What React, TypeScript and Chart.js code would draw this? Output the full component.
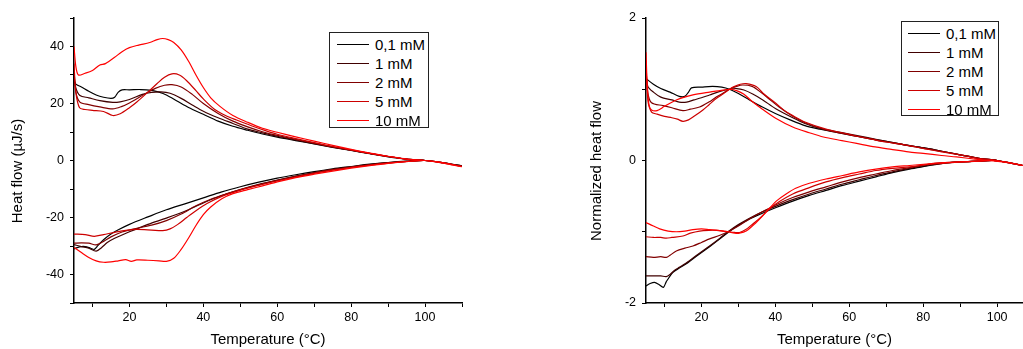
import React, { useEffect, useRef } from 'react';
import { Chart, registerables } from 'chart.js';

Chart.register(...registerables);

// ---------- series meta ----------
const seriesLabels = ['0,1 mM', '1 mM', '2 mM', '5 mM', '10 mM'];
const seriesColors = ['#000000', '#400000', '#800000', '#cc0000', '#ff0000'];

// ---------- left panel: heat flow (µJ/s), [T, value] ----------
const hfUpper01 = [[5,28],[5.5,26.8],[7,25.8],[9,24.3],[11,23],[13,22.2],[15,21.8],[16,22.2],[17,24],[18,24.8],[20,24.8],[23,24.9],[26,24.6],[28,24],[30,23],[33,20.8],[36,18.6],[40,16.2],[44,13.8],[48,12],[52,10.6],[56,9.3],[60,8.2],[65,7],[70,5.8],[75,4.6],[80,3.5],[85,2.4],[90,1.3],[95,0.5],[100,0],[105,-0.8],[110,-1.9]];
const hfUpper1 = [[5,30],[5.5,25.5],[6.6,22.8],[9,22],[12,21],[15.5,20.4],[17.5,20.6],[20,21.4],[23.5,23.2],[26,23.9],[28.5,24.1],[31,23.6],[34,21.8],[37,19.5],[40,17.3],[44,15],[48,13],[52,11],[56,9.7],[60,8.5],[65,7.2],[70,5.9],[75,4.7],[80,3.6],[85,2.5],[90,1.4],[95,0.5],[100,0],[105,-0.8],[110,-1.9]];
const hfUpper2 = [[5,32],[5.5,24],[6.6,20.5],[9,19.6],[12,18.8],[15.5,18.1],[18,19],[20,20.2],[22,21.7],[24.5,23.6],[27,25.3],[29.5,26.4],[31.5,26.6],[34,25.8],[37,23.2],[40,20],[44,16.5],[48,13.8],[52,11.8],[56,10.1],[60,8.8],[65,7.4],[70,6.1],[75,4.8],[80,3.6],[85,2.5],[90,1.4],[95,0.5],[100,0],[105,-0.8],[110,-2]];
const hfUpper5 = [[5,34],[5.5,24],[6.5,18.5],[8,17.9],[10,17.6],[13,17.2],[15.5,15.8],[17.5,16.4],[20,18.5],[22,20.5],[25,24],[27.5,27],[29.5,29.2],[31.5,30.4],[33.5,30],[35.5,28],[38,24.5],[40,21.6],[43,18],[46,15.8],[49,14.2],[53,12.2],[57,10.4],[60,9.2],[65,7.7],[70,6.3],[75,4.9],[80,3.7],[85,2.5],[90,1.4],[95,0.5],[100,0],[105,-0.9],[110,-2.1]];
const hfUpper10 = [[5,40],[5.5,33],[6.2,30],[8,30.6],[10,31.6],[12,33.5],[13.5,34],[16,36.2],[18,38.2],[20,39.6],[22.5,40.5],[25.5,41.4],[27.5,42.4],[29,42.8],[30.5,42.4],[32,41.4],[34,38.8],[36,34.8],[38,30],[40,25.6],[42,22],[44.5,19],[48,15.8],[52,13.4],[56,11.3],[60,9.9],[65,8.3],[70,6.8],[75,5.3],[80,3.9],[85,2.6],[90,1.5],[95,0.5],[100,0],[105,-0.9],[110,-2.2]];

const hfLower01 = [[5,-31],[6.5,-30.3],[8,-30.2],[9.5,-30.8],[10.5,-31.2],[11.5,-29.8],[13,-27.8],[15,-25.8],[17,-24.3],[20,-22.4],[25,-19.8],[30,-17.3],[35,-15.2],[40,-13.1],[45,-11],[50,-9.2],[55,-7.6],[60,-6.2],[65,-5],[70,-3.9],[75,-2.9],[80,-2.1],[85,-1.3],[90,-0.7],[95,-0.25],[100,0],[105,-0.8],[110,-1.9]];
const hfLower1 = [[5,-29.5],[7,-30.2],[9,-30.8],[11,-31.8],[12.5,-30.5],[14,-28.8],[16,-27.3],[20,-25],[25,-22.4],[30,-20.2],[35,-17.8],[40,-14.9],[45,-12.3],[50,-10.2],[55,-8.4],[60,-6.9],[65,-5.5],[70,-4.2],[75,-3.1],[80,-2.2],[85,-1.4],[90,-0.75],[95,-0.3],[100,0],[105,-0.8],[110,-1.9]];
const hfLower2 = [[5,-29],[7,-28.9],[9,-29],[11,-29.6],[13,-28.4],[15,-26.8],[18,-25.1],[22,-23.8],[26,-22.7],[30,-21.1],[34,-18.8],[38,-15.9],[42,-13.6],[46,-11.8],[50,-10.2],[55,-8.5],[60,-7],[65,-5.6],[70,-4.3],[75,-3.2],[80,-2.3],[85,-1.5],[90,-0.8],[95,-0.3],[100,0],[105,-0.8],[110,-2]];
const hfLower5 = [[5,-25.8],[8,-26],[10.5,-26.6],[13,-26],[16,-25.2],[19,-24.5],[22,-24.2],[26,-24.4],[29,-24.6],[31,-24],[33,-22.5],[35.5,-20],[38,-17.6],[41,-15.1],[45,-12.6],[50,-10.4],[55,-8.7],[60,-7.2],[65,-5.8],[70,-4.5],[75,-3.4],[80,-2.4],[85,-1.6],[90,-0.9],[95,-0.35],[100,0],[105,-0.8],[110,-2.1]];
const hfLower10 = [[5,-30.5],[7,-32.3],[9,-34],[11,-35.2],[13,-35.7],[15,-35.6],[17,-35.2],[19,-34.8],[20.5,-35.4],[22,-34.9],[25,-35],[28,-35.2],[30,-35.4],[32,-34.3],[34,-31.2],[36,-27.2],[38,-22.8],[40,-19],[42,-16.3],[45,-13.4],[48,-11.6],[52,-10.2],[56,-8.9],[60,-7.5],[65,-6],[70,-4.8],[75,-3.7],[80,-2.7],[85,-1.8],[90,-1],[95,-0.4],[100,0],[105,-0.8],[110,-2.2]];

// ---------- right panel: normalized heat flow, [T, value] ----------
const nhfUpper01 = [[5,1.15],[7,1.07],[9,1.01],[11.5,0.96],[14,0.9],[15.5,0.9],[16.5,0.96],[17.3,1.02],[20,1.03],[23,1.04],[25.5,1.03],[27.6,1.0],[30,0.94],[33,0.85],[36.5,0.75],[40,0.66],[44,0.57],[48,0.49],[52,0.44],[56,0.4],[60,0.36],[65,0.31],[70,0.27],[75,0.22],[80,0.18],[85,0.13],[90,0.08],[95,0.03],[100,0],[104,-0.04],[107,-0.07]];
const nhfUpper1 = [[5,1.2],[5.5,1.04],[7,0.96],[9,0.89],[12,0.85],[14,0.82],[16,0.82],[18,0.85],[20,0.88],[22.2,0.92],[25,0.97],[27.6,1.0],[29.5,1.01],[31.5,0.99],[34,0.93],[36.6,0.85],[40,0.73],[44.7,0.6],[48,0.52],[52,0.45],[56,0.41],[60,0.37],[65,0.32],[70,0.27],[75,0.22],[80,0.18],[85,0.13],[90,0.08],[95,0.03],[100,0],[104,-0.04],[107,-0.07]];
const nhfUpper2 = [[5,1.3],[5.5,0.95],[6.5,0.81],[9.6,0.77],[12,0.74],[15,0.7],[17,0.72],[19.5,0.75],[22,0.82],[24,0.89],[26,0.95],[27.6,1.0],[29.5,1.04],[31.2,1.06],[33.7,1.04],[36,0.96],[38.4,0.86],[41,0.75],[44.7,0.62],[48,0.53],[53.7,0.43],[58,0.38],[62,0.34],[66,0.3],[70,0.26],[75,0.22],[80,0.17],[85,0.13],[90,0.08],[95,0.03],[100,0],[104,-0.04],[107,-0.07]];
const nhfUpper5 = [[5,1.4],[5.5,0.85],[6.5,0.68],[8,0.65],[10,0.62],[12,0.6],[13.5,0.58],[15,0.55],[16.5,0.57],[18,0.62],[20.4,0.71],[22,0.78],[24,0.87],[26,0.94],[27.6,1.0],[29,1.04],[30.5,1.07],[32.1,1.08],[34.8,1.04],[37,0.93],[40.2,0.8],[42.5,0.7],[44.7,0.63],[48,0.54],[53.7,0.44],[58,0.39],[62,0.34],[66,0.3],[70,0.26],[75,0.22],[80,0.17],[85,0.12],[90,0.08],[95,0.03],[100,0],[104,-0.04],[107,-0.07]];
const nhfUpper10 = [[5,1.52],[5.3,1.1],[5.8,0.78],[6.5,0.71],[8,0.7],[10,0.76],[13.2,0.85],[17.7,0.92],[22.2,0.96],[25,0.98],[27.6,1.0],[29.5,0.98],[31.5,0.93],[33.9,0.82],[36.5,0.72],[40.2,0.59],[44.7,0.47],[49.2,0.39],[53,0.33],[58,0.28],[62,0.24],[67,0.19],[71,0.16],[76,0.12],[80,0.1],[85,0.07],[89,0.05],[94,0.02],[98,0],[103,-0.03],[107,-0.07]];

const nhfLower01 = [[5,-1.76],[6,-1.73],[7.3,-1.71],[8.5,-1.74],[9.7,-1.78],[10.5,-1.7],[12.3,-1.57],[14,-1.51],[15.9,-1.45],[19,-1.33],[22.2,-1.21],[25,-1.1],[27.2,-1.01],[30,-0.91],[33,-0.82],[36.5,-0.74],[40.2,-0.66],[44.7,-0.57],[49.2,-0.49],[53.7,-0.42],[58.2,-0.35],[62.7,-0.29],[67.2,-0.23],[71.7,-0.17],[76.3,-0.12],[80.8,-0.08],[85.3,-0.04],[90,-0.02],[95,-0.01],[99,0],[103,-0.03],[107,-0.07]];
const nhfLower1 = [[5,-1.62],[7,-1.62],[9,-1.62],[10.5,-1.63],[11.5,-1.6],[12.5,-1.55],[14,-1.5],[15.9,-1.44],[19,-1.32],[22.2,-1.2],[25,-1.09],[27.2,-1.0],[30,-0.9],[33,-0.81],[36.5,-0.72],[40.2,-0.64],[44.7,-0.55],[49.2,-0.47],[53.7,-0.4],[58.2,-0.33],[62.7,-0.27],[67.2,-0.21],[71.7,-0.16],[76.3,-0.11],[80.8,-0.07],[85.3,-0.04],[90,-0.02],[95,-0.01],[99,0],[103,-0.03],[107,-0.07]];
const nhfLower2 = [[5,-1.35],[7,-1.36],[9,-1.35],[10.5,-1.36],[11.5,-1.33],[13.2,-1.27],[15.5,-1.23],[17.7,-1.2],[20,-1.15],[22.2,-1.1],[25,-1.05],[27.2,-1.0],[30,-0.92],[33,-0.82],[36.5,-0.72],[40.2,-0.62],[44.7,-0.52],[49.2,-0.44],[53.7,-0.37],[58.2,-0.3],[62.7,-0.24],[67.2,-0.19],[71.7,-0.14],[76.3,-0.1],[80.8,-0.06],[85.3,-0.03],[90,-0.02],[95,-0.01],[99,0],[103,-0.03],[107,-0.07]];
const nhfLower5 = [[5,-1.07],[7,-1.08],[9,-1.08],[10.5,-1.09],[12,-1.08],[15,-1.06],[17,-1.02],[19.5,-0.99],[22,-0.98],[24,-0.98],[26,-0.99],[27.2,-1.0],[29,-1.01],[30.3,-1.01],[32,-0.97],[33.9,-0.89],[36,-0.8],[38.4,-0.68],[41,-0.58],[44.7,-0.47],[49.2,-0.38],[53.7,-0.3],[58.2,-0.24],[62.7,-0.19],[67.2,-0.14],[71.7,-0.11],[76.3,-0.09],[80.8,-0.06],[85.3,-0.04],[90,-0.02],[95,-0.01],[99,0],[103,-0.03],[107,-0.07]];
const nhfLower10 = [[5,-0.87],[7,-0.92],[8.7,-0.96],[11,-0.99],[13.2,-1.0],[15.5,-0.99],[17.7,-0.97],[20,-0.96],[22.2,-0.97],[24.5,-0.98],[27.2,-1.0],[29,-1.02],[30.3,-1.02],[32.1,-0.99],[34.8,-0.87],[36.5,-0.78],[38.4,-0.67],[40.5,-0.56],[42.9,-0.47],[45.5,-0.39],[49.2,-0.32],[53.7,-0.26],[58.2,-0.21],[62.7,-0.16],[67.2,-0.12],[71.7,-0.09],[76.3,-0.07],[80.8,-0.05],[85.3,-0.03],[90,-0.02],[94.3,-0.01],[99,0],[103,-0.03],[107,-0.07]];

// ---------- axes ----------
const leftXTicks = [10, 20, 30, 40, 50, 60, 70, 80, 90, 100, 110];
const leftXLabels = [20, 40, 60, 80, 100];
const leftYTicks = [-50, -40, -30, -20, -10, 0, 10, 20, 30, 40, 50];
const leftYLabels = [-40, -20, 0, 20, 40];
const rightXTicks = [10, 20, 30, 40, 50, 60, 70, 80, 90, 100];
const rightXLabels = [20, 40, 60, 80, 100];
const rightYTicks = [-2, -1, 0, 1, 2];
const rightYLabels = [-2, 0, 2];

const FONT = "'Liberation Sans', Arial, sans-serif";

function toLoop(upper: number[][], lower: number[][]) {
  return [...upper, ...lower.slice().reverse()].map(([x, y]) => ({ x, y }));
}

type PanelProps = {
  left: number;
  width: number;
  height: number;
  areaLeft: number;
  areaRight: number;
  areaTop: number;
  areaBottom: number;
  xMin: number;
  xMax: number;
  yMin: number;
  yMax: number;
  xTicks: number[];
  xLabels: number[];
  yTicks: number[];
  yLabels: number[];
  xTitle: string;
  yTitle: string;
  yTitleX: number;
  yTitleY: number;
  uppers: number[][][];
  lowers: number[][][];
  legend: { left: number; top: number; width: number; height: number; lineLeft: number; textLeft: number };
};

function Panel(p: PanelProps) {
  const ref = useRef<HTMLCanvasElement | null>(null);
  useEffect(() => {
    if (!ref.current) return;
    const datasets = p.uppers.map((u, i) => ({
      label: seriesLabels[i],
      data: toLoop(u, p.lowers[i]),
      borderColor: seriesColors[i],
      backgroundColor: seriesColors[i],
      borderWidth: 1.2,
      pointRadius: 0,
      tension: 0.3,
      fill: false,
      order: seriesLabels.length - 1 - i,
    }));
    const tickFont = { family: FONT, size: 12.5 };
    const titleFont = { family: FONT, size: 15 };
    const yTitlePlugin = {
      id: 'yTitleAt',
      afterDraw(chart: any) {
        const ctx = chart.ctx;
        ctx.save();
        ctx.font = `15px ${FONT}`;
        ctx.fillStyle = '#000';
        ctx.textAlign = 'center';
        ctx.textBaseline = 'middle';
        ctx.translate(p.yTitleX, p.yTitleY);
        ctx.rotate(-Math.PI / 2);
        ctx.fillText(p.yTitle, 0, 0);
        ctx.restore();
      },
    };
    const chart = new Chart(ref.current, {
      type: 'line',
      data: { datasets },
      plugins: [yTitlePlugin],
      options: {
        responsive: false,
        animation: false,
        layout: { padding: { left: 0, top: p.areaTop, right: p.width - p.areaRight, bottom: 0 } },
        plugins: { legend: { display: false }, tooltip: { enabled: false } },
        scales: {
          x: {
            type: 'linear',
            min: p.xMin,
            max: p.xMax,
            afterBuildTicks: (s: any) => { s.ticks = p.xTicks.map((v) => ({ value: v })); },
            afterFit: (s: any) => { s.height = p.height - p.areaBottom; },
            ticks: {
              autoSkip: false,
              maxRotation: 0,
              padding: 3,
              color: '#000',
              font: tickFont,
              callback: (v: any) => (p.xLabels.includes(Number(v)) ? String(v) : ''),
            },
            grid: { drawOnChartArea: false, drawTicks: true, tickLength: 4, color: '#000', lineWidth: 1 },
            border: { display: true, color: '#000', width: 1.5 },
            title: { display: true, text: p.xTitle, color: '#000', font: titleFont, padding: { top: 0, bottom: 0 } },
          },
          y: {
            type: 'linear',
            min: p.yMin,
            max: p.yMax,
            afterBuildTicks: (s: any) => { s.ticks = p.yTicks.map((v) => ({ value: v })); },
            afterFit: (s: any) => { s.width = p.areaLeft; },
            ticks: {
              autoSkip: false,
              padding: 6,
              color: '#000',
              font: tickFont,
              callback: (v: any) => (p.yLabels.includes(Number(v)) ? String(v) : ''),
            },
            grid: { drawOnChartArea: false, drawTicks: true, tickLength: 4, color: '#000', lineWidth: 1 },
            border: { display: true, color: '#000', width: 1.5 },
            title: { display: false, text: p.yTitle },
          },
        },
      },
    } as any);
    return () => chart.destroy();
  }, []);

  const lg = p.legend;
  return (
    <>
      <canvas
        ref={ref}
        width={p.width}
        height={p.height}
        style={{ position: 'absolute', left: p.left, top: 0, width: p.width, height: p.height }}
      />
      <div
        style={{
          position: 'absolute',
          left: lg.left,
          top: lg.top,
          width: lg.width,
          height: lg.height,
          boxSizing: 'border-box',
          border: '1px solid #222',
          background: '#fff',
        }}
      >
        {seriesLabels.map((lab, i) => (
          <div key={lab} style={{ position: 'absolute', left: 0, top: 11.3 + i * 19 - 9.5, height: 19, width: '100%' }}>
            <div
              style={{
                position: 'absolute',
                left: lg.lineLeft,
                top: 9,
                width: 32,
                height: 0,
                borderTop: `1.3px solid ${seriesColors[i]}`,
              }}
            />
            <div
              style={{
                position: 'absolute',
                left: lg.textLeft,
                top: 0,
                height: 19,
                lineHeight: '19px',
                fontFamily: FONT,
                fontSize: 15,
                color: '#000',
                whiteSpace: 'nowrap',
              }}
            >
              {lab}
            </div>
          </div>
        ))}
      </div>
    </>
  );
}

export default function App() {
  return (
    <div style={{ position: 'fixed', left: 0, top: 0, width: 1023, height: 349, background: '#fff', overflow: 'hidden' }}>
      <Panel
        left={0}
        width={520}
        height={349}
        areaLeft={74}
        areaRight={462}
        areaTop={18}
        areaBottom={303}
        xMin={5}
        xMax={110}
        yMin={-50}
        yMax={50}
        xTicks={leftXTicks}
        xLabels={leftXLabels}
        yTicks={leftYTicks}
        yLabels={leftYLabels}
        xTitle="Temperature (°C)"
        yTitle="Heat flow (µJ/s)"
        yTitleX={18}
        yTitleY={171}
        uppers={[hfUpper01, hfUpper1, hfUpper2, hfUpper5, hfUpper10]}
        lowers={[hfLower01, hfLower1, hfLower2, hfLower5, hfLower10]}
        legend={{ left: 329, top: 32, width: 100, height: 96, lineLeft: 7, textLeft: 45 }}
      />
      <Panel
        left={575}
        width={448}
        height={349}
        areaLeft={71}
        areaRight={448}
        areaTop={18}
        areaBottom={303}
        xMin={5}
        xMax={107}
        yMin={-2}
        yMax={2}
        xTicks={rightXTicks}
        xLabels={rightXLabels}
        yTicks={rightYTicks}
        yLabels={rightYLabels}
        xTitle="Temperature (°C)"
        yTitle="Normalized heat flow"
        yTitleX={22}
        yTitleY={171}
        uppers={[nhfUpper01, nhfUpper1, nhfUpper2, nhfUpper5, nhfUpper10]}
        lowers={[nhfLower01, nhfLower1, nhfLower2, nhfLower5, nhfLower10]}
        legend={{ left: 901, top: 21, width: 98, height: 95, lineLeft: 6, textLeft: 44 }}
      />
    </div>
  );
}
